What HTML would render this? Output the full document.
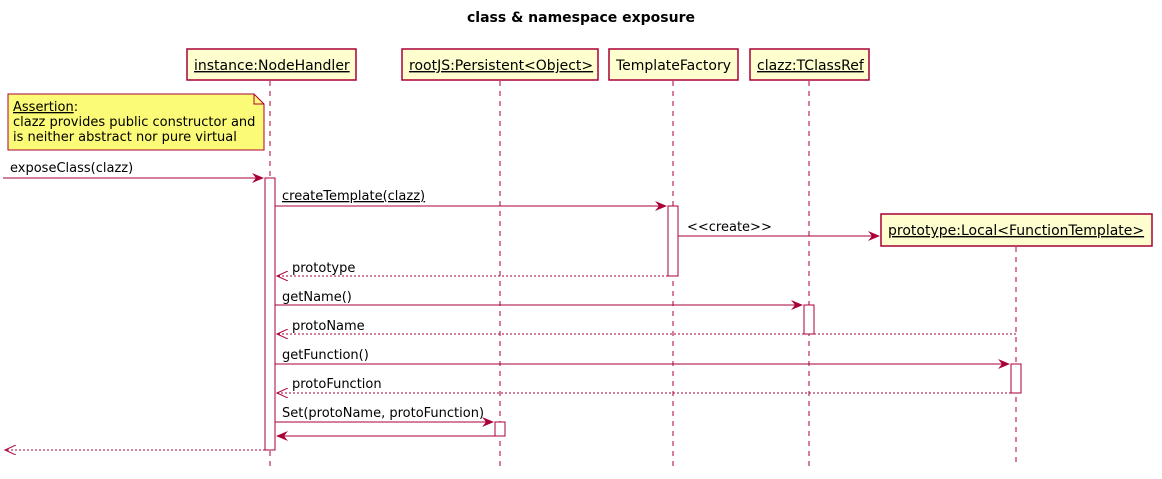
<!DOCTYPE html>
<html><head><meta charset="utf-8"><style>
html,body{margin:0;padding:0;background:#fff}
svg{display:block}
text{font-family:"DejaVu Sans","Liberation Sans",sans-serif;font-size:13px;fill:#000}
text.p{font-size:14px}
</style></head><body>
<svg width="1162" height="479" viewBox="0 0 1162 479" xmlns="http://www.w3.org/2000/svg">
<defs>
<marker id="a" viewBox="0 0 12 10" refX="11" refY="5" markerWidth="12" markerHeight="10" markerUnits="userSpaceOnUse" orient="auto">
<path d="M0,0 L12,5 L0,10 L4,5 Z" fill="#A80036"/></marker>
<marker id="o" viewBox="0 0 12 10" refX="11" refY="5" markerWidth="12" markerHeight="10" markerUnits="userSpaceOnUse" orient="auto">
<path d="M0,0 L11,5 L0,10" fill="none" stroke="#A80036" stroke-width="1"/></marker>
</defs>
<text x="581" y="22" text-anchor="middle" style="font-weight:bold;font-size:14px">class &amp; namespace exposure</text>

<g stroke="#A80036" stroke-width="1" stroke-dasharray="5,5">
<line x1="270" y1="81" x2="270" y2="466"/>
<line x1="500" y1="81" x2="500" y2="466"/>
<line x1="673" y1="81" x2="673" y2="466"/>
<line x1="809" y1="81" x2="809" y2="466"/>
<line x1="1016" y1="247" x2="1016" y2="466"/>
</g>

<g fill="#FEFECE" stroke="#A80036" stroke-width="1.5">
<rect x="187" y="49" width="169" height="31"/>
<rect x="402" y="49" width="196" height="31"/>
<rect x="609" y="49" width="129" height="31"/>
<rect x="750" y="49" width="119" height="31"/>
<rect x="881" y="214" width="271" height="32"/>
</g>
<text class="p" x="194" y="70" text-decoration="underline">instance:NodeHandler</text>
<text class="p" x="409" y="70" text-decoration="underline">rootJS:Persistent&lt;Object&gt;</text>
<text class="p" x="757" y="70" text-decoration="underline">clazz:TClassRef</text>
<text class="p" x="888" y="235" text-decoration="underline">prototype:Local&lt;FunctionTemplate&gt;</text>
<text class="p" x="616" y="70">TemplateFactory</text>

<path d="M8,94 L254,94 L264,104 L264,150 L8,150 Z" fill="#FBFB77" stroke="#A80036" stroke-width="1"/>
<path d="M254,94 L254,104 L264,104" fill="none" stroke="#A80036" stroke-width="1"/>
<text x="13" y="111"><tspan text-decoration="underline">Assertion</tspan>:</text>
<text x="13" y="126">clazz provides public constructor and</text>
<text x="13" y="141">is neither abstract nor pure virtual</text>

<g fill="#fff" stroke="#A80036" stroke-width="1">
<rect x="265" y="178" width="10" height="272"/>
<rect x="668" y="206" width="10" height="70"/>
<rect x="804" y="305" width="10" height="29"/>
<rect x="1011" y="364" width="10" height="29"/>
<rect x="495" y="422" width="10" height="14"/>
</g>

<g stroke="#A80036" stroke-width="1" fill="none">
<line x1="3" y1="178" x2="263" y2="178" marker-end="url(#a)"/>
<line x1="275" y1="206" x2="666" y2="206" marker-end="url(#a)"/>
<line x1="678" y1="236" x2="879" y2="236" marker-end="url(#a)"/>
<line x1="668" y1="276" x2="277" y2="276" stroke-dasharray="2,2" marker-end="url(#o)"/>
<line x1="275" y1="305" x2="802" y2="305" marker-end="url(#a)"/>
<line x1="1016" y1="334" x2="277" y2="334" stroke-dasharray="2,2" marker-end="url(#o)"/>
<line x1="275" y1="364" x2="1009" y2="364" marker-end="url(#a)"/>
<line x1="1011" y1="393" x2="277" y2="393" stroke-dasharray="2,2" marker-end="url(#o)"/>
<line x1="275" y1="422" x2="493" y2="422" marker-end="url(#a)"/>
<line x1="495" y1="436" x2="277" y2="436" marker-end="url(#a)"/>
<line x1="265" y1="450" x2="5" y2="450" stroke-dasharray="2,2" marker-end="url(#o)"/>
</g>

<text x="10" y="172">exposeClass(clazz)</text>
<text x="282" y="200" text-decoration="underline">createTemplate(clazz)</text>
<text x="687" y="231">&lt;&lt;create&gt;&gt;</text>
<text x="292" y="272">prototype</text>
<text x="282" y="301">getName()</text>
<text x="292" y="330">protoName</text>
<text x="282" y="359">getFunction()</text>
<text x="292" y="388">protoFunction</text>
<text x="282" y="417">Set(protoName, protoFunction)</text>
</svg>
</body></html>
